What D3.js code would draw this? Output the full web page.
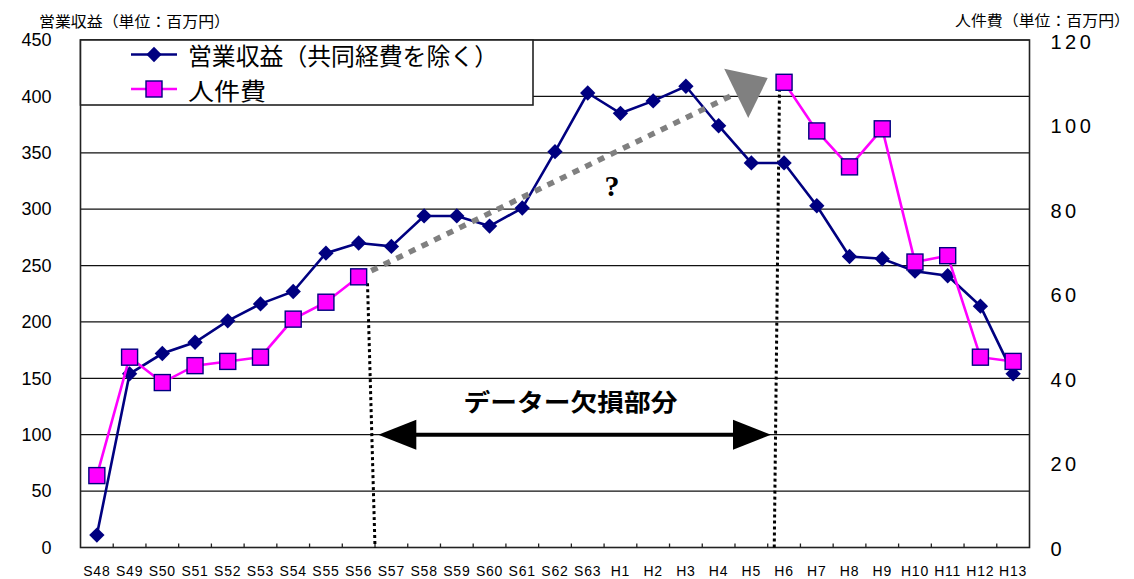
<!DOCTYPE html>
<html>
<head>
<meta charset="utf-8">
<script src="https://cdn.jsdelivr.net/npm/d3@7/dist/d3.min.js"></script>
<style>
  html, body { margin: 0; padding: 0; background: #fff; }
  svg { display: block; }
  .num { font-family: "Liberation Sans", Arial, sans-serif; fill: #000; }
  .jp { font-family: "Noto Sans CJK JP", sans-serif; fill: #000; }
</style>
</head>
<body>
<svg id="chart" width="1134" height="579"></svg>
<script>
// Fiscal years (Showa 48 – Heisei 13)
const categories = ["S48","S49","S50","S51","S52","S53","S54","S55","S56","S57","S58","S59","S60","S61","S62","S63",
                    "H1","H2","H3","H4","H5","H6","H7","H8","H9","H10","H11","H12","H13"];
// Operating revenue excluding shared costs (million yen, left axis)
const revenue = [11,154,172,182,201,216,227,261,270,267,294,294,285,301,351,403,
                 385,396,409,374,341,341,303,258,256,245,241,214,154];
// Personnel cost (million yen, right axis); S57–H5 not available
const personnel = [17,45,39,43,44,45,54,58,64,null,null,null,null,null,null,null,
                   null,null,null,null,null,110,98.5,90,99,67.5,69,45,44];
const leftTicks = [0,50,100,150,200,250,300,350,400,450];
const rightTicks = [0,20,40,60,80,100,120];
const seriesNames = ["営業収益（共同経費を除く）", "人件費"];
const leftTitle = "営業収益（単位：百万円）";
const rightTitle = "人件費（単位：百万円）";
const gapLabel = "データー欠損部分";
// Missing-data span: start/end positions in category index units, arrow drawn at revenue value 100
const gapSpan = { from: 8.6, to: 20.6, value: 100 };
// Trend guess across the gap: from S56 personnel value to near H6
const trend = { fromIndex: 8, fromValue: 64, toIndex: 20.5, toValue: 111 };
// Dotted boundaries of the gap: [top index, top personnel value, bottom index]
const boundaries = [[8.27, 62.5, 8.5], [20.86, 108.5, 20.7]];

const svg = d3.select("#chart");
const L = 80.5, R = 1029.5, T = 40, B = 547.5;

const xi = d3.scaleLinear().domain([-0.5, categories.length - 0.5]).range([L, R]);
const yL = d3.scaleLinear().domain([0, 450]).range([B, T]);
const yR = d3.scaleLinear().domain([0, 120]).range([B, T]);

// gridlines
svg.append("g").selectAll("line").data(leftTicks).join("line")
  .attr("x1", L).attr("x2", R)
  .attr("y1", d => yL(d)).attr("y2", d => yL(d))
  .attr("stroke", "#111").attr("stroke-width", 1.2);

// plot frame
svg.append("rect").attr("x", L).attr("y", T).attr("width", R - L).attr("height", B - T)
  .attr("fill", "none").attr("stroke", "#222").attr("stroke-width", 1.6);

// bottom tick marks at category boundaries
svg.append("g").selectAll("line").data(d3.range(1, categories.length)).join("line")
  .attr("x1", d => xi(d - 0.5)).attr("x2", d => xi(d - 0.5))
  .attr("y1", B).attr("y2", B - 4)
  .attr("stroke", "#222").attr("stroke-width", 1.3);

// left axis
const axL = svg.append("g").attr("transform", `translate(${L},0)`)
  .call(d3.axisLeft(yL).tickValues(leftTicks).tickSize(0).tickPadding(29));
axL.select(".domain").remove();
axL.selectAll("text").attr("class", "num").style("font-size", "18px")
  .attr("font-family", null).attr("fill", "#000");

// right axis
const axR = svg.append("g").attr("transform", `translate(${R},0)`)
  .call(d3.axisRight(yR).tickValues(rightTicks).tickSize(0).tickPadding(21));
axR.select(".domain").remove();
axR.selectAll("text").attr("class", "num").style("font-size", "20px")
  .style("letter-spacing", "3.5px").attr("font-family", null).attr("fill", "#000")
  .attr("dy", "0.4em");

// bottom category labels
svg.append("g").selectAll("text").data(categories).join("text")
  .attr("class", "num")
  .attr("x", (d, i) => xi(i)).attr("y", 571)
  .attr("text-anchor", "middle").attr("dominant-baseline", "central")
  .style("font-size", "14px").style("letter-spacing", "0.8px")
  .text(d => d);

// axis titles
svg.append("text").attr("class", "jp").attr("x", 39).attr("y", 20)
  .attr("dominant-baseline", "central").style("font-size", "15px")
  .attr("textLength", 191).attr("lengthAdjust", "spacingAndGlyphs").text(leftTitle);
svg.append("text").attr("class", "jp").attr("x", 955).attr("y", 19)
  .attr("dominant-baseline", "central").style("font-size", "15px")
  .attr("textLength", 175).attr("lengthAdjust", "spacingAndGlyphs").text(rightTitle);

// dotted gap boundaries
svg.append("g").selectAll("line").data(boundaries).join("line")
  .attr("x1", d => xi(d[0])).attr("y1", d => yR(d[1]))
  .attr("x2", d => xi(d[2])).attr("y2", B)
  .attr("stroke", "#000").attr("stroke-width", 3).attr("stroke-dasharray", "3,3");

// double-headed arrow for the missing span
{
  const y = yL(gapSpan.value), x1 = xi(gapSpan.from), x2 = xi(gapSpan.to);
  const hl = 38, hw = 15;
  svg.append("line").attr("x1", x1 + hl - 2).attr("x2", x2 - hl + 2).attr("y1", y).attr("y2", y)
    .attr("stroke", "#000").attr("stroke-width", 4);
  svg.append("path").attr("d", `M${x1},${y}L${x1 + hl},${y - hw}L${x1 + hl},${y + hw}Z`).attr("fill", "#000");
  svg.append("path").attr("d", `M${x2},${y}L${x2 - hl},${y - hw}L${x2 - hl},${y + hw}Z`).attr("fill", "#000");
  svg.append("text").attr("class", "jp")
    .attr("x", (x1 + x2) / 2 - 4).attr("y", 400)
    .attr("text-anchor", "middle").attr("dominant-baseline", "central")
    .style("font-size", "24px").style("font-weight", "bold")
    .attr("textLength", 214).attr("lengthAdjust", "spacingAndGlyphs")
    .text(gapLabel);
}

// revenue line
svg.append("path")
  .datum(revenue.map((v, i) => [i, v]))
  .attr("d", d3.line().x(d => xi(d[0])).y(d => yL(d[1])))
  .attr("fill", "none").attr("stroke", "#000080").attr("stroke-width", 2.6);
svg.append("g").selectAll("path").data(revenue).join("path")
  .attr("transform", (d, i) => `translate(${xi(i)},${yL(d)})`)
  .attr("d", d3.symbol(d3.symbolDiamond2, 150)())
  .attr("fill", "#000080");

// personnel line (gap left open)
svg.append("path")
  .datum(personnel.map((v, i) => [i, v]))
  .attr("d", d3.line().defined(d => d[1] != null).x(d => xi(d[0])).y(d => yR(d[1])))
  .attr("fill", "none").attr("stroke", "#ff00ff").attr("stroke-width", 2.6);

// dotted trend arrow across the gap
{
  const sx = xi(trend.fromIndex), sy = yR(trend.fromValue);
  const tx = xi(trend.toIndex), ty = yR(trend.toValue);
  const len = Math.hypot(tx - sx, ty - sy), ux = (tx - sx) / len, uy = (ty - sy) / len;
  const hl = 35, hw = 27.5;
  const bx = tx - ux * hl, by = ty - uy * hl;
  svg.append("line").attr("x1", sx).attr("y1", sy).attr("x2", bx).attr("y2", by)
    .attr("stroke", "#808080").attr("stroke-width", 5.5).attr("stroke-dasharray", "7,7");
  svg.append("path")
    .attr("d", `M${tx},${ty}L${bx - uy * hw},${by + ux * hw}L${bx + uy * hw},${by - ux * hw}Z`)
    .attr("fill", "#808080");
}

svg.append("g").selectAll("rect").data(personnel.map((v, i) => [i, v]).filter(d => d[1] != null)).join("rect")
  .attr("x", d => xi(d[0]) - 8).attr("y", d => yR(d[1]) - 8)
  .attr("width", 16).attr("height", 16)
  .attr("fill", "#ff00ff").attr("stroke", "#000080").attr("stroke-width", 1.4);

// question mark
svg.append("text").attr("x", 612).attr("y", 185)
  .attr("text-anchor", "middle").attr("dominant-baseline", "central")
  .style("font-family", "'Liberation Serif', serif").style("font-size", "30px").style("font-weight", "bold")
  .text("?");

// legend
{
  const g = svg.append("g");
  g.append("rect").attr("x", L).attr("y", T).attr("width", 533 - L).attr("height", 105 - T)
    .attr("fill", "#fff").attr("stroke", "#222").attr("stroke-width", 1.6);
  const rows = [
    { name: seriesNames[0], color: "#000080", y: 54.5, len: 310 },
    { name: seriesNames[1], color: "#ff00ff", y: 89, len: 78 }
  ];
  rows.forEach((r, k) => {
    g.append("line").attr("x1", 131).attr("x2", 177).attr("y1", r.y).attr("y2", r.y)
      .attr("stroke", r.color).attr("stroke-width", 2.6);
    if (k === 0) {
      g.append("path").attr("transform", `translate(154,${r.y})`)
        .attr("d", d3.symbol(d3.symbolDiamond2, 150)()).attr("fill", "#000080");
    } else {
      g.append("rect").attr("x", 146).attr("y", r.y - 8).attr("width", 16).attr("height", 16)
        .attr("fill", "#ff00ff").attr("stroke", "#000080").attr("stroke-width", 1.4);
    }
    g.append("text").attr("class", "jp").attr("x", 188).attr("y", r.y)
      .attr("dominant-baseline", "central").style("font-size", "24px")
      .attr("textLength", r.len).attr("lengthAdjust", "spacingAndGlyphs")
      .text(r.name);
  });
}
</script>
</body>
</html>
